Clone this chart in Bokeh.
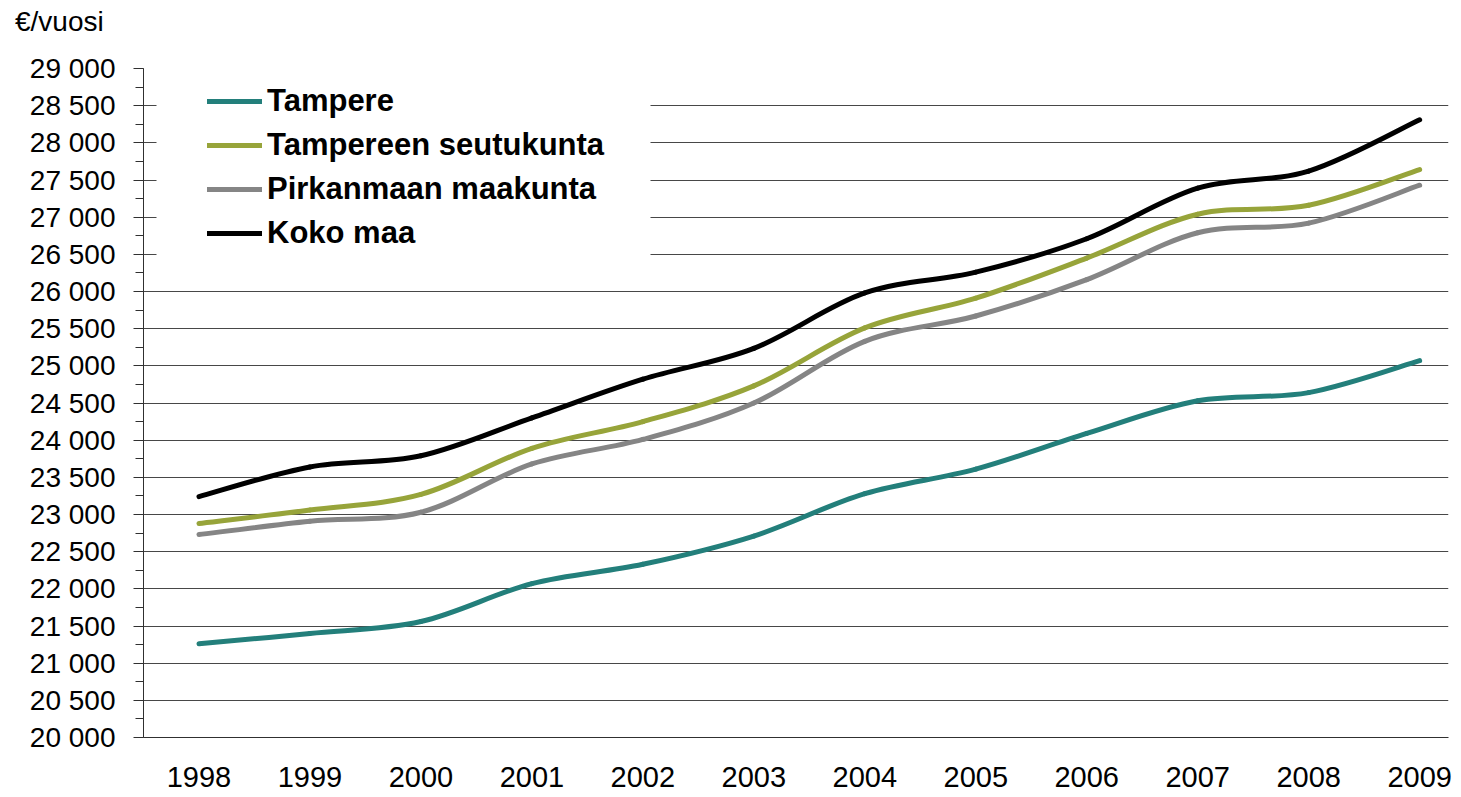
import numpy as np
from bokeh.plotting import figure
from bokeh.layouts import column
from bokeh.models import (Range1d, FixedTicker, SingleIntervalTicker, Legend, LegendItem,
                          BoxAnnotation, ColumnDataSource, Div)
from bokeh.embed import file_html
from bokeh.resources import INLINE

# ---------------- data ----------------
years = [1998, 1999, 2000, 2001, 2002, 2003, 2004, 2005, 2006, 2007, 2008, 2009]
tampere = [21260, 21400, 21560, 22070, 22330, 22710, 23280, 23610, 24090, 24530, 24640, 25070]
seutukunta = [22880, 23060, 23270, 23890, 24250, 24730, 25510, 25910, 26450, 27040, 27160, 27640]
pirkanmaa = [22730, 22910, 23030, 23680, 24010, 24500, 25330, 25670, 26160, 26790, 26920, 27430]
koko_maa = [23240, 23640, 23790, 24300, 24820, 25235, 25980, 26260, 26710, 27390, 27620, 28310]

series_names = ["Tampere", "Tampereen seutukunta", "Pirkanmaan maakunta", "Koko maa"]
series_values = [tampere, seutukunta, pirkanmaa, koko_maa]
series_colors = ["#237F7B", "#97A43A", "#858585", "#000000"]

y_ticks = list(range(20000, 29001, 500))
y_labels = {v: f"{v:,}".replace(",", " ") for v in y_ticks}
unit_label = "€/vuosi"
FONT = "Liberation Sans"


def smooth_segments(xs, ys):
    """Cubic Bezier segments (Catmull-Rom style control points) through the data points."""
    xs = np.asarray(xs, dtype=float)
    ys = np.asarray(ys, dtype=float)
    n = len(xs)
    i = np.arange(n - 1)
    prev = np.maximum(i - 1, 0)
    nxt2 = np.minimum(i + 2, n - 1)
    return dict(
        x0=xs[i], y0=ys[i], x1=xs[i + 1], y1=ys[i + 1],
        cx0=xs[i] + (xs[i + 1] - xs[prev]) / 6.0,
        cy0=ys[i] + (ys[i + 1] - ys[prev]) / 6.0,
        cx1=xs[i + 1] - (xs[nxt2] - xs[i]) / 6.0,
        cy1=ys[i + 1] - (ys[nxt2] - ys[i]) / 6.0,
    )


DIV_H = 40

p = figure(frame_width=1305, frame_height=669,
           x_range=Range1d(1997.5, 2009.26), y_range=Range1d(20000, 29000),
           output_backend="svg", toolbar_location=None,
           min_border_left=143, min_border_top=68 - DIV_H, min_border_right=5,
           min_border_bottom=60,
           background_fill_color="white", border_fill_color="white")
p.outline_line_color = None

# grid
p.xgrid.grid_line_color = None
p.ygrid.grid_line_color = "#474747"
p.ygrid.grid_line_width = 1
p.ygrid.ticker = SingleIntervalTicker(interval=500)

# y axis
yax = p.yaxis[0]
yax.ticker = SingleIntervalTicker(interval=500, num_minor_ticks=2)
yax.major_label_overrides = y_labels
yax.major_label_text_font = FONT
yax.major_label_text_font_size = "28px"
yax.major_label_text_color = "#000000"
yax.axis_line_color = "#303030"
yax.major_tick_line_color = "#303030"
yax.minor_tick_line_color = "#303030"
yax.major_tick_out = 10
yax.major_tick_in = 0
yax.minor_tick_out = 8
yax.minor_tick_in = 0
yax.major_label_standoff = 18

# x axis
xax = p.xaxis[0]
xax.ticker = FixedTicker(ticks=years, minor_ticks=[])
xax.major_label_text_font = FONT
xax.major_label_text_font_size = "29px"
xax.major_label_text_color = "#000000"
xax.axis_line_color = "#303030"
xax.major_tick_out = 0
xax.major_tick_in = 0
xax.minor_tick_out = 0
xax.minor_tick_in = 0
xax.major_label_standoff = 29

# white area behind legend (hides grid lines there)
p.add_layout(BoxAnnotation(left=13, right=507, top=659, bottom=472,
                           left_units="screen", right_units="screen",
                           top_units="screen", bottom_units="screen",
                           fill_color="white", fill_alpha=1.0, line_color=None,
                           level="annotation"))

items = []
for name, vals, col in zip(series_names, series_values, series_colors):
    src = ColumnDataSource(smooth_segments(years, vals))
    r = p.bezier(x0="x0", y0="y0", x1="x1", y1="y1", cx0="cx0", cy0="cy0",
                 cx1="cx1", cy1="cy1", source=src, line_color=col, line_width=5,
                 line_cap="round")
    items.append(LegendItem(label=name, renderers=[r]))

legend = Legend(items=items, location=(64, 482), orientation="vertical",
                label_text_font=FONT, label_text_font_size="31px",
                label_text_font_style="bold", label_text_color="#000000",
                glyph_width=55, glyph_height=44, label_height=44, label_standoff=5,
                spacing=0, padding=0, margin=0,
                background_fill_alpha=0.0, border_line_color=None)
p.add_layout(legend)

# unit label above the plot
unit_div = Div(text=unit_label, width=300, height=DIV_H, margin=0,
               styles={"font-family": FONT, "font-size": "28px", "color": "#000000",
                       "padding-left": "15px", "padding-top": "6px",
                       "line-height": "1.15", "box-sizing": "border-box"})

layout = column(unit_div, p, spacing=0)

open("out.html", "w").write(file_html(layout, INLINE))
